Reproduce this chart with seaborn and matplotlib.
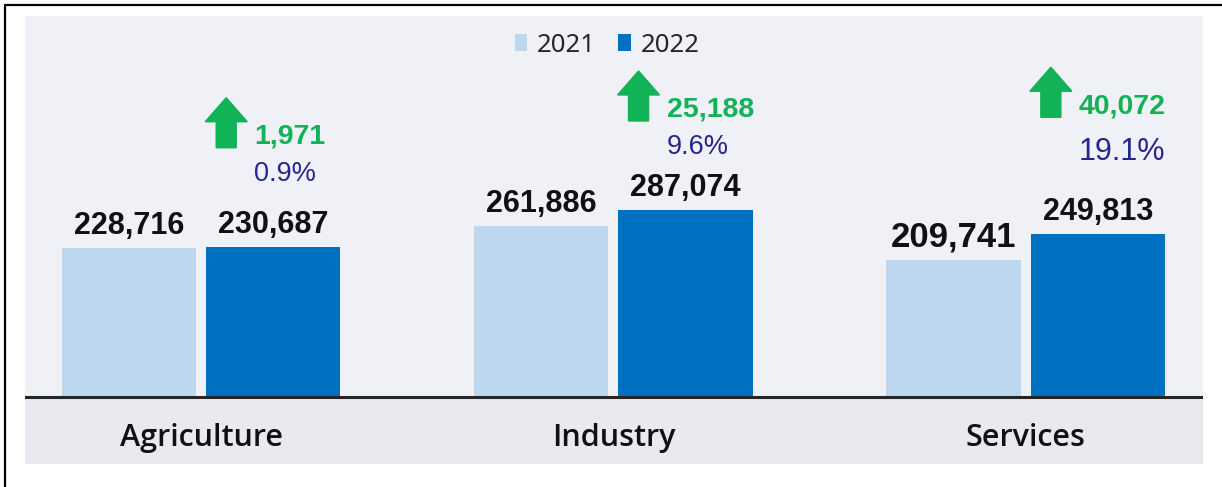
import numpy as np
import pandas as pd
import matplotlib.pyplot as plt
import matplotlib.transforms as mtransforms
from matplotlib.patches import Polygon, Patch
from matplotlib.lines import Line2D
import seaborn as sns

# data
sectors = ['Agriculture', 'Industry', 'Services']
years = ['2021', '2022']
values_2021 = [228716, 261886, 209741]
values_2022 = [230687, 287074, 249813]

colors = {'2021': '#BDD7EE', '2022': '#0070C0'}
green = '#12B257'
navy = '#25258F'
narrow = ['Liberation Sans', 'DejaVu Sans']

df = pd.DataFrame({
    'sector': sectors * 2,
    'year': ['2021'] * 3 + ['2022'] * 3,
    'value': values_2021 + values_2022,
})

sns.set_style('white')
plt.rcParams['font.family'] = ['Noto Sans', 'DejaVu Sans']

fig = plt.figure(figsize=(12.22, 4.87), dpi=100)
W, H = 1222, 487
ax = fig.add_axes([25 / W, 23 / H, 1178 / W, 448 / H])
ax.set_facecolor('#F0F0F7')

sns.barplot(data=df, x='sector', y='value', hue='year', order=sectors,
            hue_order=years, palette=colors, width=0.70, gap=0.07,
            saturation=1, linewidth=0, ax=ax, legend=False)

px = 1535  # value per pixel
ax.set_xlim(-0.427, 2.43)
ax.set_ylim(-67 * px, 381 * px)
ax.axhspan(-67 * px, 0, color='#E9E9EF', zorder=0)
ax.axhline(0, color='#262626', lw=2.2, zorder=3)
ax.set_xticks([])
ax.set_yticks([])
ax.set_xlabel('')
ax.set_ylabel('')
for s in ax.spines.values():
    s.set_visible(False)

# value labels on bars
for cont in ax.containers:
    ax.bar_label(cont, labels=[f'{b.get_height():,.0f}' for b in cont],
                 padding=5, fontsize=22, fontweight='bold',
                 family=narrow, color='#111111')
# the services 2021 label is drawn larger in the source
ax.texts[2].set_fontsize(25)

# category labels
for i, name in enumerate(sectors):
    ax.text(i, 0.058, name, transform=ax.get_xaxis_transform(), ha='center',
            va='center', fontsize=22, fontweight='semibold',
            family=['Open Sans', 'DejaVu Sans'], color='#111111')

# growth annotations above 2022 bars
lift = [99, 89, 117]  # pixels between bar top and arrow bottom
fig.canvas.draw()
bars_2022 = list(ax.containers[1])
for i, bar in enumerate(bars_2022):
    diff = values_2022[i] - values_2021[i]
    pct = diff / values_2021[i] * 100
    cx = bar.get_x() + bar.get_width() / 2
    bx, by = ax.transData.transform((cx, bar.get_height()))
    ax0 = bx - 47
    ay0 = by + lift[i]
    verts = np.array([[-10, 0], [10, 0], [10, 26], [21, 26], [0, 50],
                      [-21, 26], [-10, 26]]) + [ax0, ay0]
    fig.add_artist(Polygon(verts, closed=True, color=green,
                           transform=mtransforms.IdentityTransform()))
    x_txt, y_txt = ax.transData.inverted().transform((ax0 + 28, ay0 + 4))
    ax.text(x_txt, y_txt, f'{diff:,}', ha='left', va='baseline',
            fontsize=20.5, fontweight='bold', family=narrow, color=green)
    big = pct >= 10
    x_p, y_p = ax.transData.inverted().transform(
        (ax0 + 28, ay0 - (43 if big else 33)))
    ax.text(x_p, y_p, f'{pct:.1f}%', ha='left', va='baseline',
            fontsize=22 if big else 19.5, family=narrow, color=navy)

# legend
handles = [Patch(facecolor=colors[y], edgecolor='none', label=y) for y in years]
ax.legend(handles=handles, loc='center', bbox_to_anchor=(0.494, 0.935),
          ncol=2, frameon=False, fontsize=18.5, handlelength=0.5,
          handleheight=0.65, handletextpad=0.35, columnspacing=0.9)

# frame lines on left and top of the image
fig.add_artist(Line2D([5 / W, 5 / W], [0, 1 - 5 / H], color='black', lw=1.6,
                      transform=fig.transFigure))
fig.add_artist(Line2D([5 / W, 1], [1 - 5 / H, 1 - 5 / H], color='black',
                      lw=1.6, transform=fig.transFigure))

fig.savefig('out.png', dpi=100, facecolor='white')
